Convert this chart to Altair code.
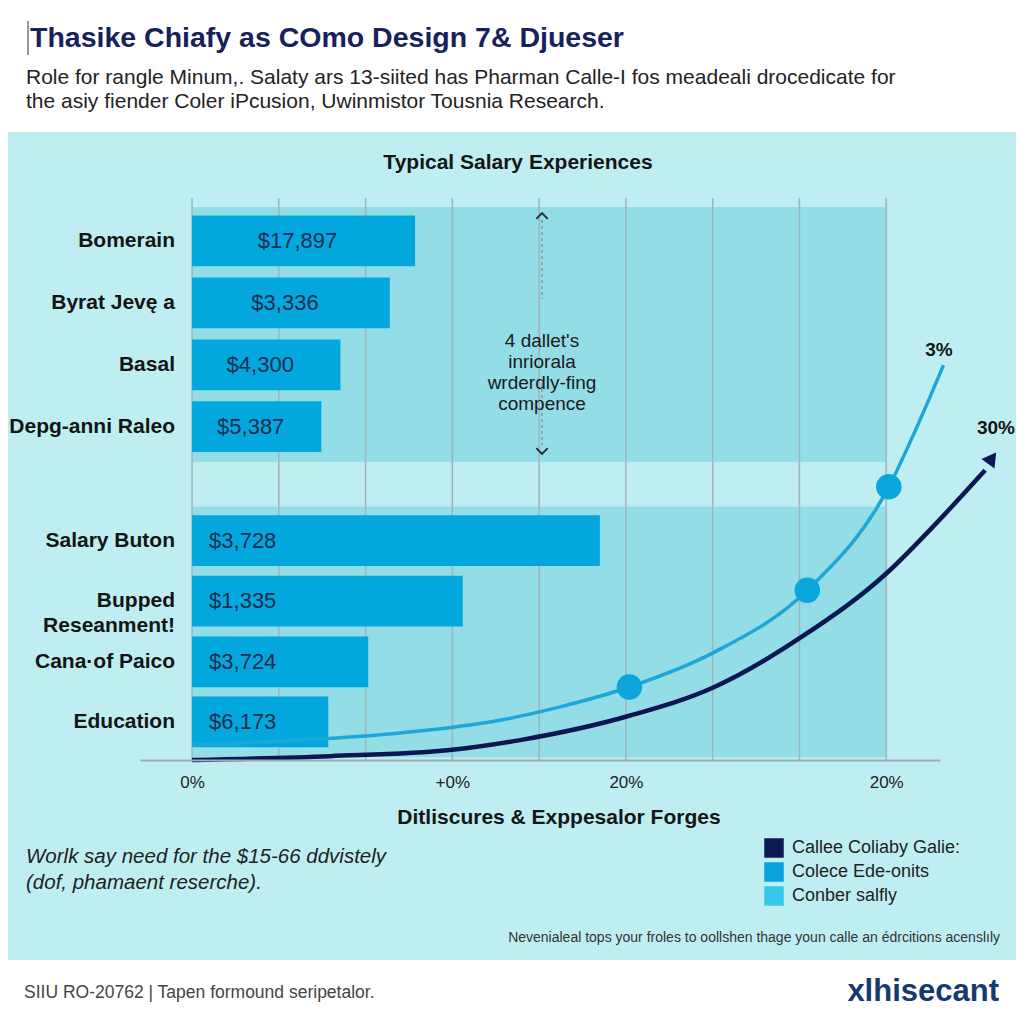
import altair as alt
import pandas as pd

FONT = "Liberation Sans"

# ---------------- data ----------------
categories = ["Bomerain", "Byrat Jevę a", "Basal", "Depg-anni Raleo",
              "Salary Buton", "Bupped\nReseanment!", "Cana·of Paico", "Education"]
value_labels = ["$17,897", "$3,336", "$4,300", "$5,387",
                "$3,728", "$1,335", "$3,724", "$6,173"]
bar_length = [2.57, 2.28, 1.71, 1.49, 4.70, 3.12, 2.03, 1.57]
row_pos = [0, 1, 2, 3, 4.84, 5.82, 6.8, 7.77]
group = ["top"] * 4 + ["bottom"] * 4

light_x = [0, 1.24, 2.40, 3.55, 4.24, 5.04, 6.02, 7.09, 8.03, 8.39, 8.66]
light_v = [2.7, 3.6, 4.9, 7.2, 9.6, 13.2, 19.5, 30.7, 49.4, 61.5, 71.4]
dark_x = [0, 1.59, 2.97, 3.78, 5.04, 6.02, 7.02, 8.02, 8.57, 9.14]
dark_v = [0, 0.7, 1.8, 3.6, 8.0, 13.2, 22.2, 34.0, 42.7, 52.4]
marker_x = [5.04, 7.09, 8.03]
marker_v = [13.2, 30.7, 49.4]
arrow_x = [9.22]
arrow_v = [54.6]

grid_x = [0, 1, 2, 3, 4, 5, 6, 7, 8]
tick_vals = [0, 3, 5, 8]
tick_texts = ["0%", "+0%", "20%", "20%"]

legend_labels = ["Callee Coliaby Galie:", "Colece Ede-onits", "Conber salfly"]
legend_colors = ["#0c1a55", "#0aa2da", "#38c6ea"]

# ---------------- scales ----------------
xs = alt.Scale(domain=[-0.6, 8.62], nice=False, zero=False)
rs = alt.Scale(domain=[-0.549, 8.385], reverse=True, nice=False, zero=False)
vs = alt.Scale(domain=[0, 100], nice=False, zero=False)

label_expr = " : ".join(
    f"datum.value == {v} ? '{t}'" for v, t in zip(tick_vals[:-1], tick_texts[:-1])
) + f" : '{tick_texts[-1]}'"

xaxis = alt.Axis(values=tick_vals, labelExpr=label_expr, ticks=False, grid=False,
                 domainColor="#9cadb3", domainWidth=2, labelFontSize=17,
                 labelColor="#222222", labelPadding=14, labelFont=FONT, title=None,
                 zindex=1)


def X(field):
    return alt.X(field, scale=xs, axis=xaxis)


bars = pd.DataFrame({
    "cat": categories, "val": value_labels, "len": bar_length,
    "row": row_pos, "group": group,
})
bars["x0"] = 0.0
bars["mid"] = bars["len"] / 2
bars["r0"] = bars["row"] - 0.41
bars["r1"] = bars["row"] + 0.41

shade = pd.DataFrame({
    "x0": [0, 0], "x1": [8, 8],
    "r0": [row_pos[0] - 0.55, row_pos[4] - 0.55],
    "r1": [row_pos[3] + 0.57, row_pos[7] + 0.57],
})


def txt(text, x, y, size, weight="normal", color="#222222", align="left",
        style="normal", line_height=None):
    kw = dict(align=align, baseline="middle", fontSize=size, fontWeight=weight,
              fontStyle=style, color=color, font=FONT, lineBreak="\n")
    if line_height:
        kw["lineHeight"] = line_height
    return alt.Chart(pd.DataFrame({"t": [text]})).mark_text(**kw).encode(
        x=alt.value(x), y=alt.value(y), text="t:N")


one = pd.DataFrame({"a": [0]})

panel = alt.Chart(one).mark_rect(color="#bfeef2").encode(
    x=alt.value(-140), x2=alt.value(884), y=alt.value(-75), y2=alt.value(753))

shade_l = alt.Chart(shade).mark_rect(color="#93dde6").encode(
    x=X("x0:Q"), x2="x1:Q",
    y=alt.Y("r0:Q", scale=rs, axis=None), y2="r1:Q")

grid = alt.Chart(pd.DataFrame({"g": grid_x})).mark_rule(
    color="#9fb3ba", strokeWidth=1.5).encode(
    x=X("g:Q"), y=alt.value(-9), y2=alt.value(553))

bar_l = alt.Chart(bars).mark_rect(color="#02a8dd").encode(
    x=X("x0:Q"), x2="len:Q",
    y=alt.Y("r0:Q", scale=rs, axis=None), y2="r1:Q")

val_top = alt.Chart(bars[bars.group == "top"]).mark_text(
    align="center", baseline="middle", dx=-6, fontSize=22, color="#1c2b4d", font=FONT
).encode(x=X("mid:Q"),
         y=alt.Y("row:Q", scale=rs, axis=None), text="val:N")

val_bot = alt.Chart(bars[bars.group == "bottom"]).mark_text(
    align="left", baseline="middle", dx=17, fontSize=22, color="#1c2b4d", font=FONT
).encode(x=X("x0:Q"),
         y=alt.Y("row:Q", scale=rs, axis=None), text="val:N")

cat_l = alt.Chart(bars).mark_text(
    align="right", baseline="middle", fontSize=21, fontWeight="bold",
    color="#141414", font=FONT, lineBreak="\n", lineHeight=25
).encode(x=alt.value(35), y=alt.Y("row:Q", scale=rs, axis=None), text="cat:N")

light = alt.Chart(pd.DataFrame({"x": light_x, "v": light_v})).mark_line(
    color="#1ea6d8", strokeWidth=3.5, interpolate="monotone").encode(
    x=X("x:Q"), y=alt.Y("v:Q", scale=vs, axis=None))

dark = alt.Chart(pd.DataFrame({"x": dark_x, "v": dark_v})).mark_line(
    color="#0b1652", strokeWidth=4.5, interpolate="monotone").encode(
    x=X("x:Q"), y=alt.Y("v:Q", scale=vs, axis=None))

markers = alt.Chart(pd.DataFrame({"x": marker_x, "v": marker_v})).mark_point(
    shape="circle", filled=True, size=650, color="#0aa6dc", opacity=1).encode(
    x=X("x:Q"), y=alt.Y("v:Q", scale=vs, axis=None))

arrow = alt.Chart(pd.DataFrame({"x": arrow_x, "v": arrow_v})).mark_point(
    shape="triangle-up", filled=True, size=260, color="#0b1652", opacity=1,
    angle=36).encode(
    x=X("x:Q"), y=alt.Y("v:Q", scale=vs, axis=None))

dash1 = alt.Chart(one).mark_rule(color="#7d97a0", strokeWidth=1.5, strokeDash=[3, 3]).encode(
    x=alt.value(402), y=alt.value(13), y2=alt.value(92))
dash2 = alt.Chart(one).mark_rule(color="#7d97a0", strokeWidth=1.5, strokeDash=[3, 3]).encode(
    x=alt.value(402), y=alt.value(176), y2=alt.value(238))
chev_up = alt.Chart(one).mark_point(
    shape="M -1 0.5 L 0 -0.5 L 1 0.5", filled=False, stroke="#27313d",
    strokeWidth=2, size=130, opacity=1).encode(x=alt.value(402), y=alt.value(9))
chev_dn = alt.Chart(one).mark_point(
    shape="M -1 -0.5 L 0 0.5 L 1 -0.5", filled=False, stroke="#27313d",
    strokeWidth=2, size=130, opacity=1).encode(x=alt.value(402), y=alt.value(244))

leg_df = pd.DataFrame({"lab": legend_labels, "col": legend_colors,
                       "y": [641, 665, 689]})
leg_sq = alt.Chart(leg_df).mark_point(shape="square", filled=True, size=380, opacity=1).encode(
    x=alt.value(634), y=alt.Y("y:Q", scale=None),
    color=alt.Color("col:N", scale=None, legend=None))
leg_tx = alt.Chart(leg_df).mark_text(align="left", baseline="middle", fontSize=18,
                                      color="#222222", font=FONT).encode(
    x=alt.value(652), y=alt.Y("y:Q", scale=None), text="lab:N")

layers = [
    panel, shade_l, grid, bar_l, val_top, val_bot, cat_l,
    dash1, dash2, chev_up, chev_dn,
    light, dark, markers, arrow,
    alt.Chart(one).mark_rule(color="#9a9a9a", strokeWidth=2).encode(
        x=alt.value(-112), y=alt.value(-186), y2=alt.value(-152)),
    txt("Thasike Chiafy as COmo Design 7& Djueser", -110, -169, 28.5, "bold", "#17215c"),
    txt("Role for rangle Minum,. Salaty ars 13-siited has Pharman Calle-I fos meadeali drocedicate for",
        -114, -129, 21, color="#232323"),
    txt("the asiy fiender Coler iPcusion, Uwinmistor Tousnia Research.",
        -114, -105, 21, color="#232323"),
    txt("Typical Salary Experiences", 378, -44, 21, "bold", "#151515", "center"),
    txt("4 dallet's\ninriorala\nwrderdly-fing\ncompence", 402, 134, 19,
        color="#1a1a1a", align="center", line_height=21),
    txt("3%", 799, 143, 19, "bold", "#151515", "center"),
    txt("30%", 856, 221, 19, "bold", "#151515", "center"),
    txt("Ditliscures & Exppesalor Forges", 419, 611, 21, "bold", "#151515", "center"),
    txt("Worlk say need for the $15-66 ddvistely", -114, 650, 20.5, style="italic", color="#222222"),
    txt("(dof, phamaent reserche).", -114, 676, 20.5, style="italic", color="#222222"),
    leg_sq, leg_tx,
    txt("Nevenialeal tops your froles to oollshen thage youn calle an édrcitions acenslıly",
        860, 731, 14, color="#333333", align="right"),
    txt("SIIU RO-20762 | Tapen formound seripetalor.", -116, 786, 17.5, color="#444444"),
    txt("xlhisecant", 859, 785, 31, "bold", "#173a6c", "right"),
]

chart = alt.layer(*layers).resolve_scale(y="independent").properties(
    width=800, height=553,
    padding={"left": 132, "top": 199, "right": 76, "bottom": 248},
    autosize=alt.AutoSizeParams(type="none"),
    background="white",
).configure_view(stroke=None)

chart.save("out.html", embed_options={"renderer": "svg", "actions": False})
